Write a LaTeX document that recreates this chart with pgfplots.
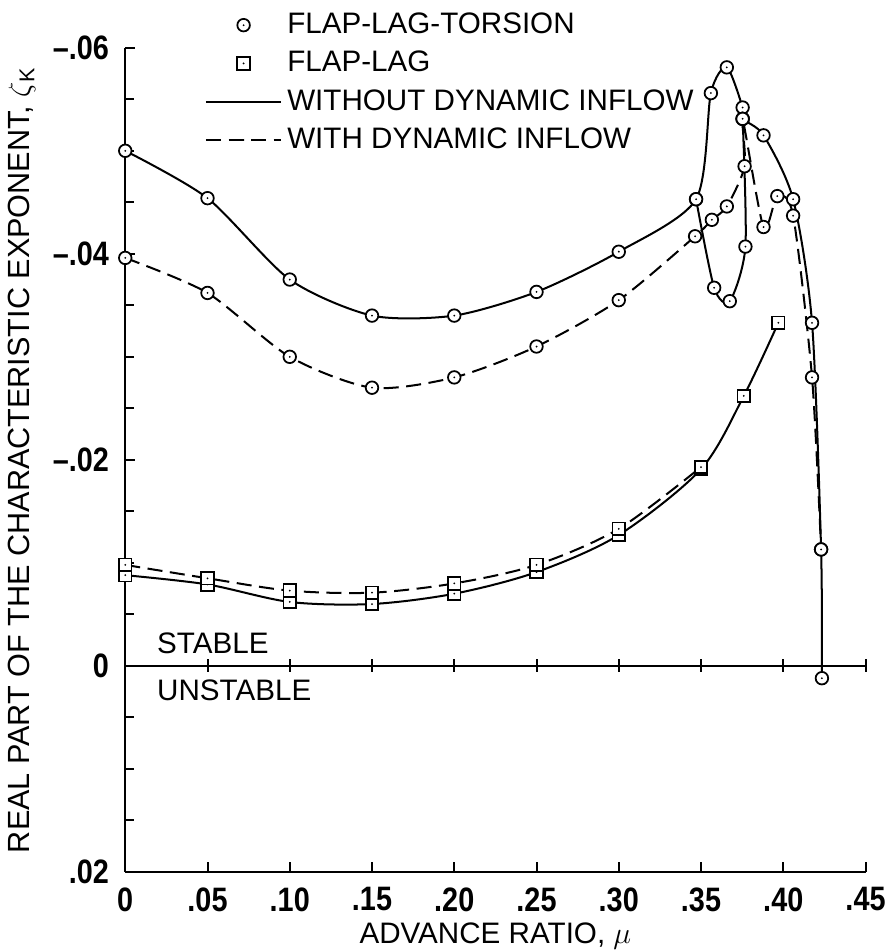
\documentclass[border=0pt]{standalone}
\usepackage{fontspec}
\setmainfont{Liberation Sans}
\newfontfamily\tickfont{Liberation Sans}[FakeStretch=0.85]
\usepackage{pgfplots}
\pgfplotsset{compat=1.18}

% circle / square with a dot in the middle
\pgfdeclareplotmark{odot}{%
  \pgfpathcircle{\pgfpointorigin}{\pgfplotmarksize}%
  \pgfusepathqfillstroke
  \begin{pgfscope}%
  \pgfsetfillcolor{black}%
  \pgfpathcircle{\pgfpointorigin}{0.4pt}%
  \pgfusepathqfill
  \end{pgfscope}}
\pgfdeclareplotmark{sdot}{%
  \pgfpathrectangle{\pgfpoint{-\pgfplotmarksize}{-\pgfplotmarksize}}{\pgfpoint{2\pgfplotmarksize}{2\pgfplotmarksize}}%
  \pgfusepathqfillstroke
  \begin{pgfscope}%
  \pgfsetfillcolor{black}%
  \pgfpathcircle{\pgfpointorigin}{0.4pt}%
  \pgfusepathqfill
  \end{pgfscope}}

\begin{document}
\begin{tikzpicture}[font=\fontsize{11.8}{14}\selectfont]
\begin{axis}[
    scale only axis,
    width=295pt, height=328.4pt,
    xmin=0, xmax=0.45, ymin=-0.06, ymax=0.02,
    y dir=reverse,
    axis x line*=bottom, axis y line*=left,
    axis line style={line width=0.8pt},
    xtick={0,0.05,0.10,0.15,0.20,0.25,0.30,0.35,0.40,0.45},
    xticklabels={0,.05,.10,.15,.20,.25,.30,.35,.40,.45},
    ytick={-0.06,-0.04,-0.02,0,0.02},
    yticklabels={\textendash.06,\textendash.04,\textendash.02,0,.02},
    scaled y ticks=false,
    minor ytick={-0.055,-0.05,-0.045,-0.035,-0.03,-0.025,-0.015,-0.01,-0.005,0.005,0.01,0.015},
    xtick align=inside, ytick align=inside,
    major tick length=4pt, minor tick length=3.5pt,
    tick style={black, line width=0.8pt},
    tick label style={font=\tickfont\bfseries\fontsize{13.5}{15}\selectfont},
    xticklabel style={inner sep=0.5pt, yshift=-5.5pt},
    yticklabel style={xshift=-3pt},
    xlabel={ADVANCE RATIO, $\mu$},
    xlabel style={inner sep=0.5pt, yshift=-3.5pt},
    ylabel={REAL PART OF THE CHARACTERISTIC EXPONENT, $\zeta$\textsubscript{K}},
    ylabel style={font=\fontsize{12.2}{14}\selectfont},
    every axis plot/.append style={line width=0.8pt},
    mark size=2.5pt,
    clip=false,
    legend image code/.code={\draw[mark repeat=2,mark phase=2,#1] plot coordinates {(0pt,0pt)(15pt,0pt)(30pt,0pt)};},
    legend style={at={(0.107,1.049)}, anchor=north west, draw=none, fill=none,
        inner sep=0pt, row sep=1.5pt, cells={anchor=west},
        /tikz/every even column/.append style={column sep=10pt}},
]
\addlegendimage{only marks, mark=odot, mark options={solid, fill=white, line width=0.7pt}}
\addlegendentry{FLAP-LAG-TORSION}
\addlegendimage{only marks, mark=sdot, mark options={solid, fill=white, line width=0.7pt}}
\addlegendentry{FLAP-LAG}
\addlegendimage{black, line width=0.8pt}
\addlegendentry{WITHOUT DYNAMIC INFLOW}
\addlegendimage{black, line width=0.8pt, dash pattern=on 6pt off 3pt}
\addlegendentry{WITH DYNAMIC INFLOW}

% stable / unstable line
\addplot[black, line width=0.8pt, forget plot] coordinates {(0,0)(0.45,0)};
\addplot[black, only marks, mark=|, mark size=2.6pt, mark options={line width=0.8pt}, forget plot]
    coordinates {(0.05,0)(0.10,0)(0.15,0)(0.20,0)(0.25,0)(0.30,0)(0.35,0)(0.40,0)(0.45,0)};

% flap-lag, without dynamic inflow
\addplot[black, smooth, mark=sdot, mark options={solid, fill=white, line width=0.7pt}, forget plot]
    coordinates {(0,-0.0088)(0.05,-0.0079)(0.10,-0.0062)(0.15,-0.0060)(0.20,-0.0070)(0.25,-0.0091)(0.30,-0.0127)(0.35,-0.0191)(0.376,-0.0262)(0.397,-0.0333)};
% flap-lag, with dynamic inflow
\addplot[black, smooth, dash pattern=on 6pt off 3pt, mark=sdot, mark options={solid, fill=white, line width=0.7pt}, forget plot]
    coordinates {(0,-0.0098)(0.05,-0.0085)(0.10,-0.0073)(0.15,-0.0071)(0.20,-0.0080)(0.25,-0.0098)(0.30,-0.0133)(0.35,-0.0193)};

% flap-lag-torsion, without dynamic inflow
\addplot[black, smooth, tension=0.45, mark=odot, mark options={solid, fill=white, line width=0.7pt}, forget plot]
    coordinates {(0,-0.0500)(0.05,-0.0454)(0.10,-0.0375)(0.15,-0.0340)(0.20,-0.0340)(0.25,-0.0363)(0.30,-0.0402)
    (0.347,-0.0453)(0.356,-0.0556)(0.3657,-0.0581)(0.3753,-0.0542)(0.3753,-0.0531)(0.388,-0.0515)
    (0.406,-0.0453)(0.4175,-0.0333)(0.423,-0.0113)(0.4235,0.0012)};
\addplot[black, smooth, tension=0.45, mark=odot, mark options={solid, fill=white, line width=0.7pt}, forget plot]
    coordinates {(0.347,-0.0453)(0.358,-0.0367)(0.3675,-0.0354)(0.377,-0.0407)(0.3753,-0.0531)};
% flap-lag-torsion, with dynamic inflow
\addplot[black, smooth, tension=0.45, dash pattern=on 6pt off 3pt, mark=odot, mark options={solid, fill=white, line width=0.7pt}, forget plot]
    coordinates {(0,-0.0396)(0.05,-0.0362)(0.10,-0.0300)(0.15,-0.0270)(0.20,-0.0280)(0.25,-0.0310)(0.30,-0.0355)
    (0.3464,-0.0417)(0.3566,-0.0433)(0.3657,-0.0446)(0.3765,-0.0485)(0.3753,-0.0531)
    (0.388,-0.0426)(0.3964,-0.0456)(0.406,-0.0437)(0.4175,-0.0280)(0.423,-0.0113)};

\node[anchor=west] at (axis cs:0.014,-0.0022) {STABLE};
\node[anchor=west] at (axis cs:0.014,0.0024) {UNSTABLE};
% a little white room above the legend, as in the original
\path (axis description cs:0.5,1.058);
\end{axis}
\end{tikzpicture}
\end{document}
